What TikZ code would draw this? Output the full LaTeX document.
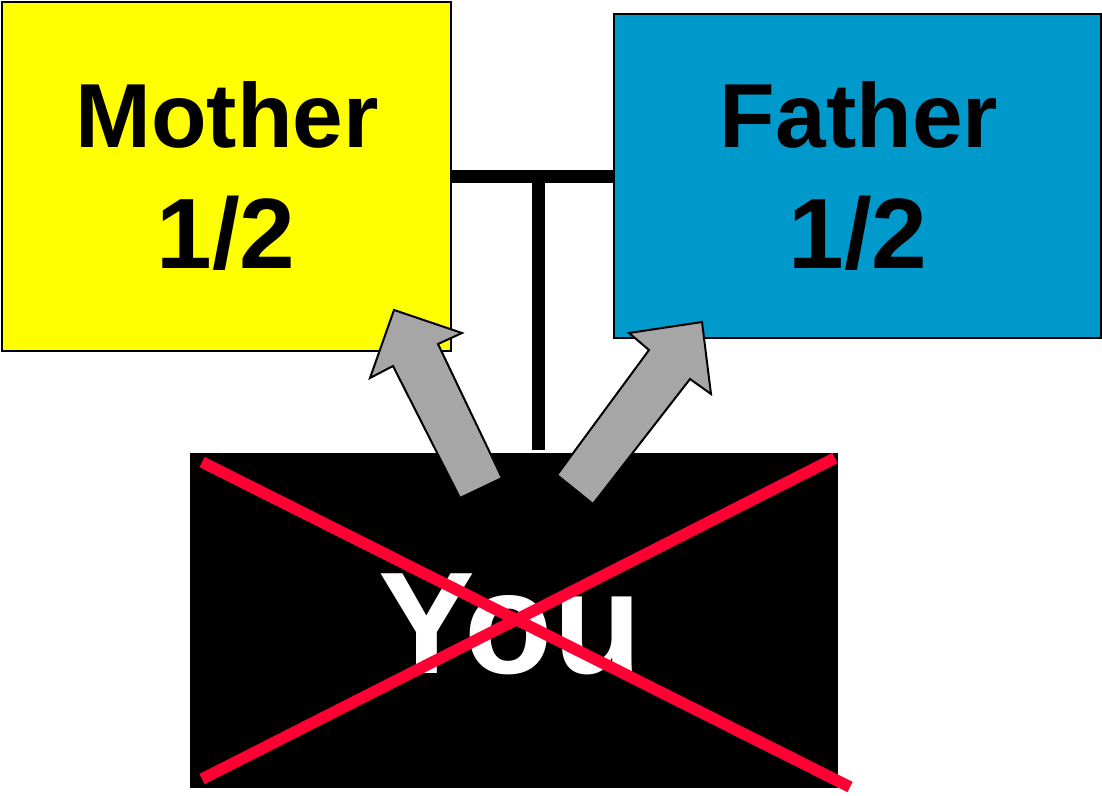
\documentclass[tikz,border=0pt]{standalone}
\usepackage{fontspec}
\setmainfont{Liberation Sans}
\definecolor{myyellow}{HTML}{FFFF00}
\definecolor{myblue}{HTML}{0099CC}
\definecolor{myred}{HTML}{FF0033}
\definecolor{mygray}{HTML}{A6A6A6}
\tikzset{
  box/.style={draw=black, line width=2.2pt, inner sep=0pt, anchor=north west},
  big/.style={font=\bfseries\fontsize{91}{91}\selectfont, anchor=base, inner sep=0pt},
  frac/.style={font=\bfseries\fontsize{100}{100}\selectfont, anchor=base, inner sep=0pt},
  bar/.style={line width=13pt, black},
  cross/.style={line width=11.5pt, myred},
  blockarrow/.style={fill=mygray, draw=black, line width=2pt, line join=miter},
}
\begin{document}
\begin{tikzpicture}[x=1pt, y=-1pt]
\useasboundingbox (0,0) rectangle (1102,795);
% parent boxes
\node[box, fill=myyellow, minimum width=449pt, minimum height=349pt] (mother) at (1,1) {};
\node[box, fill=myblue, minimum width=487pt, minimum height=324pt] (father) at (613,13) {};
% family connector
\coordinate (junction) at (538.5,176.5);
\draw[bar] (mother.east |- junction) -- (father.west |- junction);
\coordinate (stemend) at (538.5,450);
\draw[bar] (junction) -- (stemend);
% you box
\node[box, fill=black, draw=none, minimum width=648pt, minimum height=335pt] (you) at (189,452) {};
% texts
\node[big] (mtext) at (227,147) {Mother};
\node[frac] (mfrac) at (226,268) {1/2};
\node[big] (ftext) at (859,147) {Father};
\node[frac] (ffrac) at (858,268) {1/2};
\node[font=\bfseries\fontsize{145}{145}\selectfont, anchor=base, inner sep=0pt, text=white] (ytext) at (510,673) {You};
% red cross
\coordinate (c1a) at (202,462);
\coordinate (c1b) at (850,787);
\coordinate (c2a) at (202,779);
\coordinate (c2b) at (835,458);
\draw[cross] (c1a) -- (c1b);
\draw[cross] (c2a) -- (c2b);
% gray block arrows
\draw[blockarrow] (394,310) -- (462,333) -- (438,344) -- (502,478) -- (460,498) -- (393,366) -- (370,378) -- cycle;
\draw[blockarrow] (702,322) -- (711,394) -- (690,379) -- (593,504) -- (557,475) -- (649,350) -- (629,333) -- cycle;
\end{tikzpicture}
\end{document}
